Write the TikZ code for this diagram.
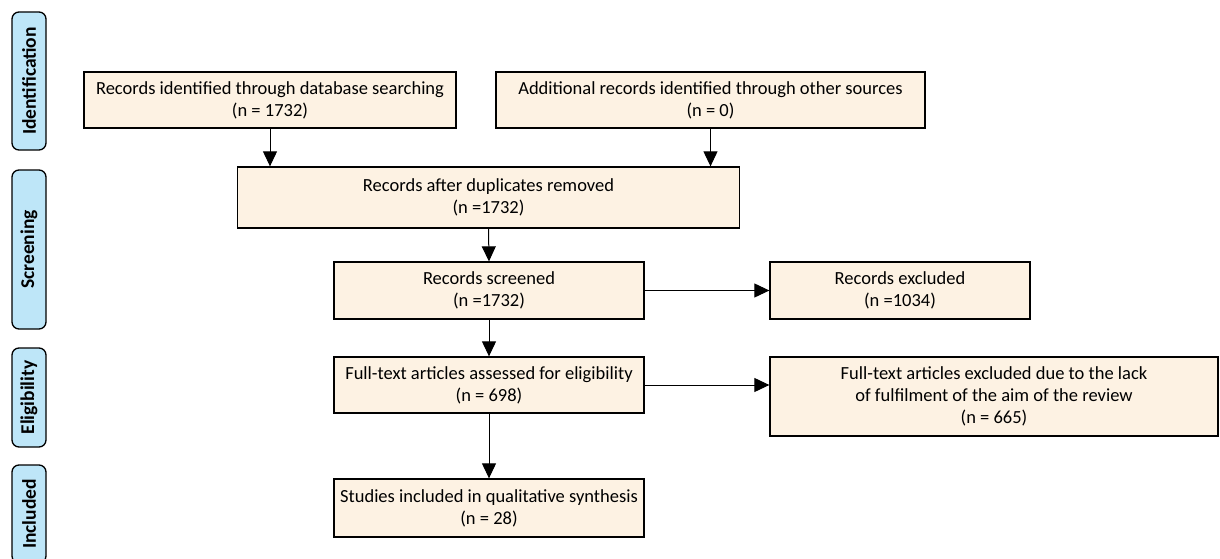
\documentclass[tikz,border=0pt]{standalone}
\usepackage{fontspec}
\setmainfont{Carlito}
\usetikzlibrary{arrows.meta}
\definecolor{boxfill}{HTML}{FDF2E3}
\definecolor{phasefill}{HTML}{BEE6F8}
\tikzset{
    flowbox/.style={draw, line width=1.3pt, fill=boxfill, align=center, inner sep=0pt,
        font=\fontsize{18.5}{22}\selectfont},
    phasebox/.style={draw, line width=1.3pt, fill=phasefill, rounded corners=7pt, rotate=90,
        inner sep=0pt, minimum height=34pt, font=\bfseries\fontsize{19.5}{23}\selectfont},
    flowarrow/.style={line width=1pt, -{Triangle[length=15pt, width=14pt]}}
}
\begin{document}
\begin{tikzpicture}[x=1pt, y=-1pt]
        \useasboundingbox (0,0) rectangle (1220,559);
        % phases
        \node[phasebox, minimum width=138pt] (ident) at (29,81) {Identification};
        \node[phasebox, minimum width=159pt] (screen) at (29,249.5) {Screening};
        \node[phasebox, minimum width=99pt] (elig) at (29,397.5) {Eligibility};
        \node[phasebox, minimum width=98pt] (incl) at (29,514) {Included};
        % identification
        \node[flowbox, minimum width=372pt, minimum height=56pt] (database) at (270,100)
            {Records identified through database searching\\(n = 1732)};
        \node[flowbox, minimum width=429pt, minimum height=56pt] (other) at (710.5,100)
            {Additional records identified through other sources\\(n = 0)};
        % screening
        \node[flowbox, minimum width=502pt, minimum height=61pt] (nodup) at (488.5,197.5)
            {Records after duplicates removed\\(n =1732)};
        \node[flowbox, minimum width=310pt, minimum height=57pt] (screened) at (489,290.5)
            {Records screened\\(n =1732)};
        \node[flowbox, minimum width=260pt, minimum height=57pt] (excl) at (900,290.5)
            {Records excluded\\(n =1034)};
        % eligibility
        \node[flowbox, minimum width=310pt, minimum height=56pt] (fulltext) at (489,385)
            {Full-text articles assessed for eligibility\\(n = 698)};
        \node[flowbox, minimum width=448pt, minimum height=79pt] (ftexcl) at (994,396.5)
            {Full-text articles excluded due to the lack\\of fulfilment of the aim of the review\\(n = 665)};
        % included
        \node[flowbox, minimum width=310pt, minimum height=58pt] (studies) at (489,508)
            {Studies included in qualitative synthesis\\(n = 28)};
        % arrows
        \draw[flowarrow] (database.south) -- (database.south |- nodup.north);
        \draw[flowarrow] (other.south) -- (other.south |- nodup.north);
        \draw[flowarrow] (nodup.south) -- (screened.north);
        \draw[flowarrow] (screened.east) -- (excl.west);
        \draw[flowarrow] (screened.south) -- (fulltext.north);
        \draw[flowarrow] (fulltext.east) -- (fulltext.east -| ftexcl.west);
        \draw[flowarrow] (fulltext.south) -- (studies.north);
    \end{tikzpicture}
\end{document}
